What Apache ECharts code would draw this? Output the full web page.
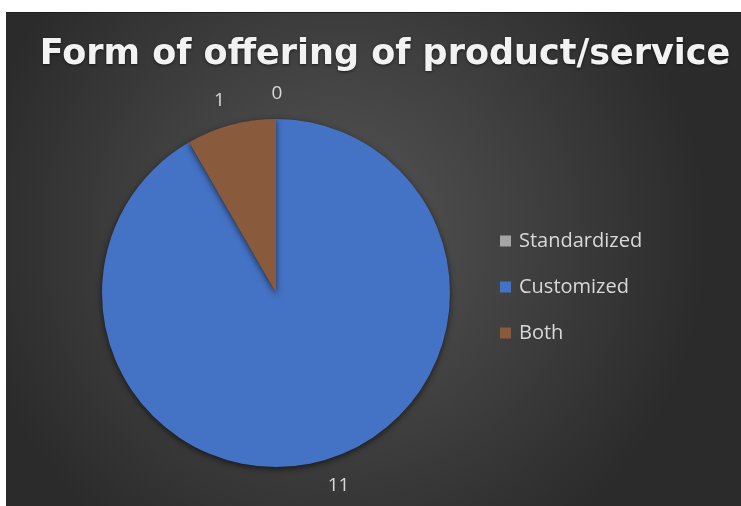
<!DOCTYPE html>
<html>
<head>
<meta charset="utf-8">
<script src="https://cdn.jsdelivr.net/npm/echarts@6/dist/echarts.min.js"></script>
<style>
  html, body { margin: 0; padding: 0; background: #ffffff; }
  #chart {
    position: absolute;
    left: 6px; top: 12px;
    width: 735px; height: 494px;
    border-top: 1px solid #1e1e1e;
    box-sizing: border-box;
  }
</style>
</head>
<body>
<div id="chart"></div>
<script>
// Form of offering: counts per category
const categories = ['Standardized', 'Customized', 'Both'];
const counts = [0, 11, 1];
const colors = ['#a5a5a5', '#4472c4', '#8a5a3c'];
// small horizontal nudges for the outside value labels
const labelNudge = [6, 6, 0];

const chart = echarts.init(document.getElementById('chart'), null, { renderer: 'canvas' });

chart.setOption({
  backgroundColor: {
    type: 'radial', x: 0.45, y: 0.45, r: 0.75,
    colorStops: [
      { offset: 0, color: '#565656' },
      { offset: 1, color: '#2b2b2b' }
    ]
  },
  animation: false,
  title: {
    text: 'Form of offering of product/service',
    left: 374, top: 19, textAlign: 'center',
    textStyle: {
      color: '#f2f2f2', fontFamily: 'DejaVu Sans', fontWeight: 'bold', fontSize: 35,
      textShadowColor: 'rgba(0,0,0,0.6)', textShadowBlur: 3, textShadowOffsetY: 1
    }
  },
  legend: {
    orient: 'vertical',
    left: 489, top: 213,
    itemWidth: 11, itemHeight: 11, itemGap: 26,
    icon: 'rect',
    textStyle: { color: '#d9d9d9', fontFamily: 'Open Sans', fontSize: 20, padding: [0, 0, 0, 3] },
    data: categories
  },
  series: [{
    type: 'pie',
    center: [270, 280],
    radius: 174,
    startAngle: 90,
    clockwise: true,
    avoidLabelOverlap: false,
    data: categories.map((name, i) => ({ name, value: counts[i], itemStyle: { color: colors[i] } })),
    itemStyle: {
      shadowColor: 'rgba(0,0,0,0.6)', shadowBlur: 6, shadowOffsetY: 2
    },
    label: {
      show: true, position: 'outside', formatter: '{c}',
      color: '#d9d9d9', fontFamily: 'Open Sans', fontSize: 19
    },
    labelLine: { show: false, length: 25, length2: 0 },
    labelLayout: (p) => ({ align: 'center', dx: labelNudge[p.dataIndex] }),
    emphasis: { disabled: true }
  }]
});
</script>
</body>
</html>
